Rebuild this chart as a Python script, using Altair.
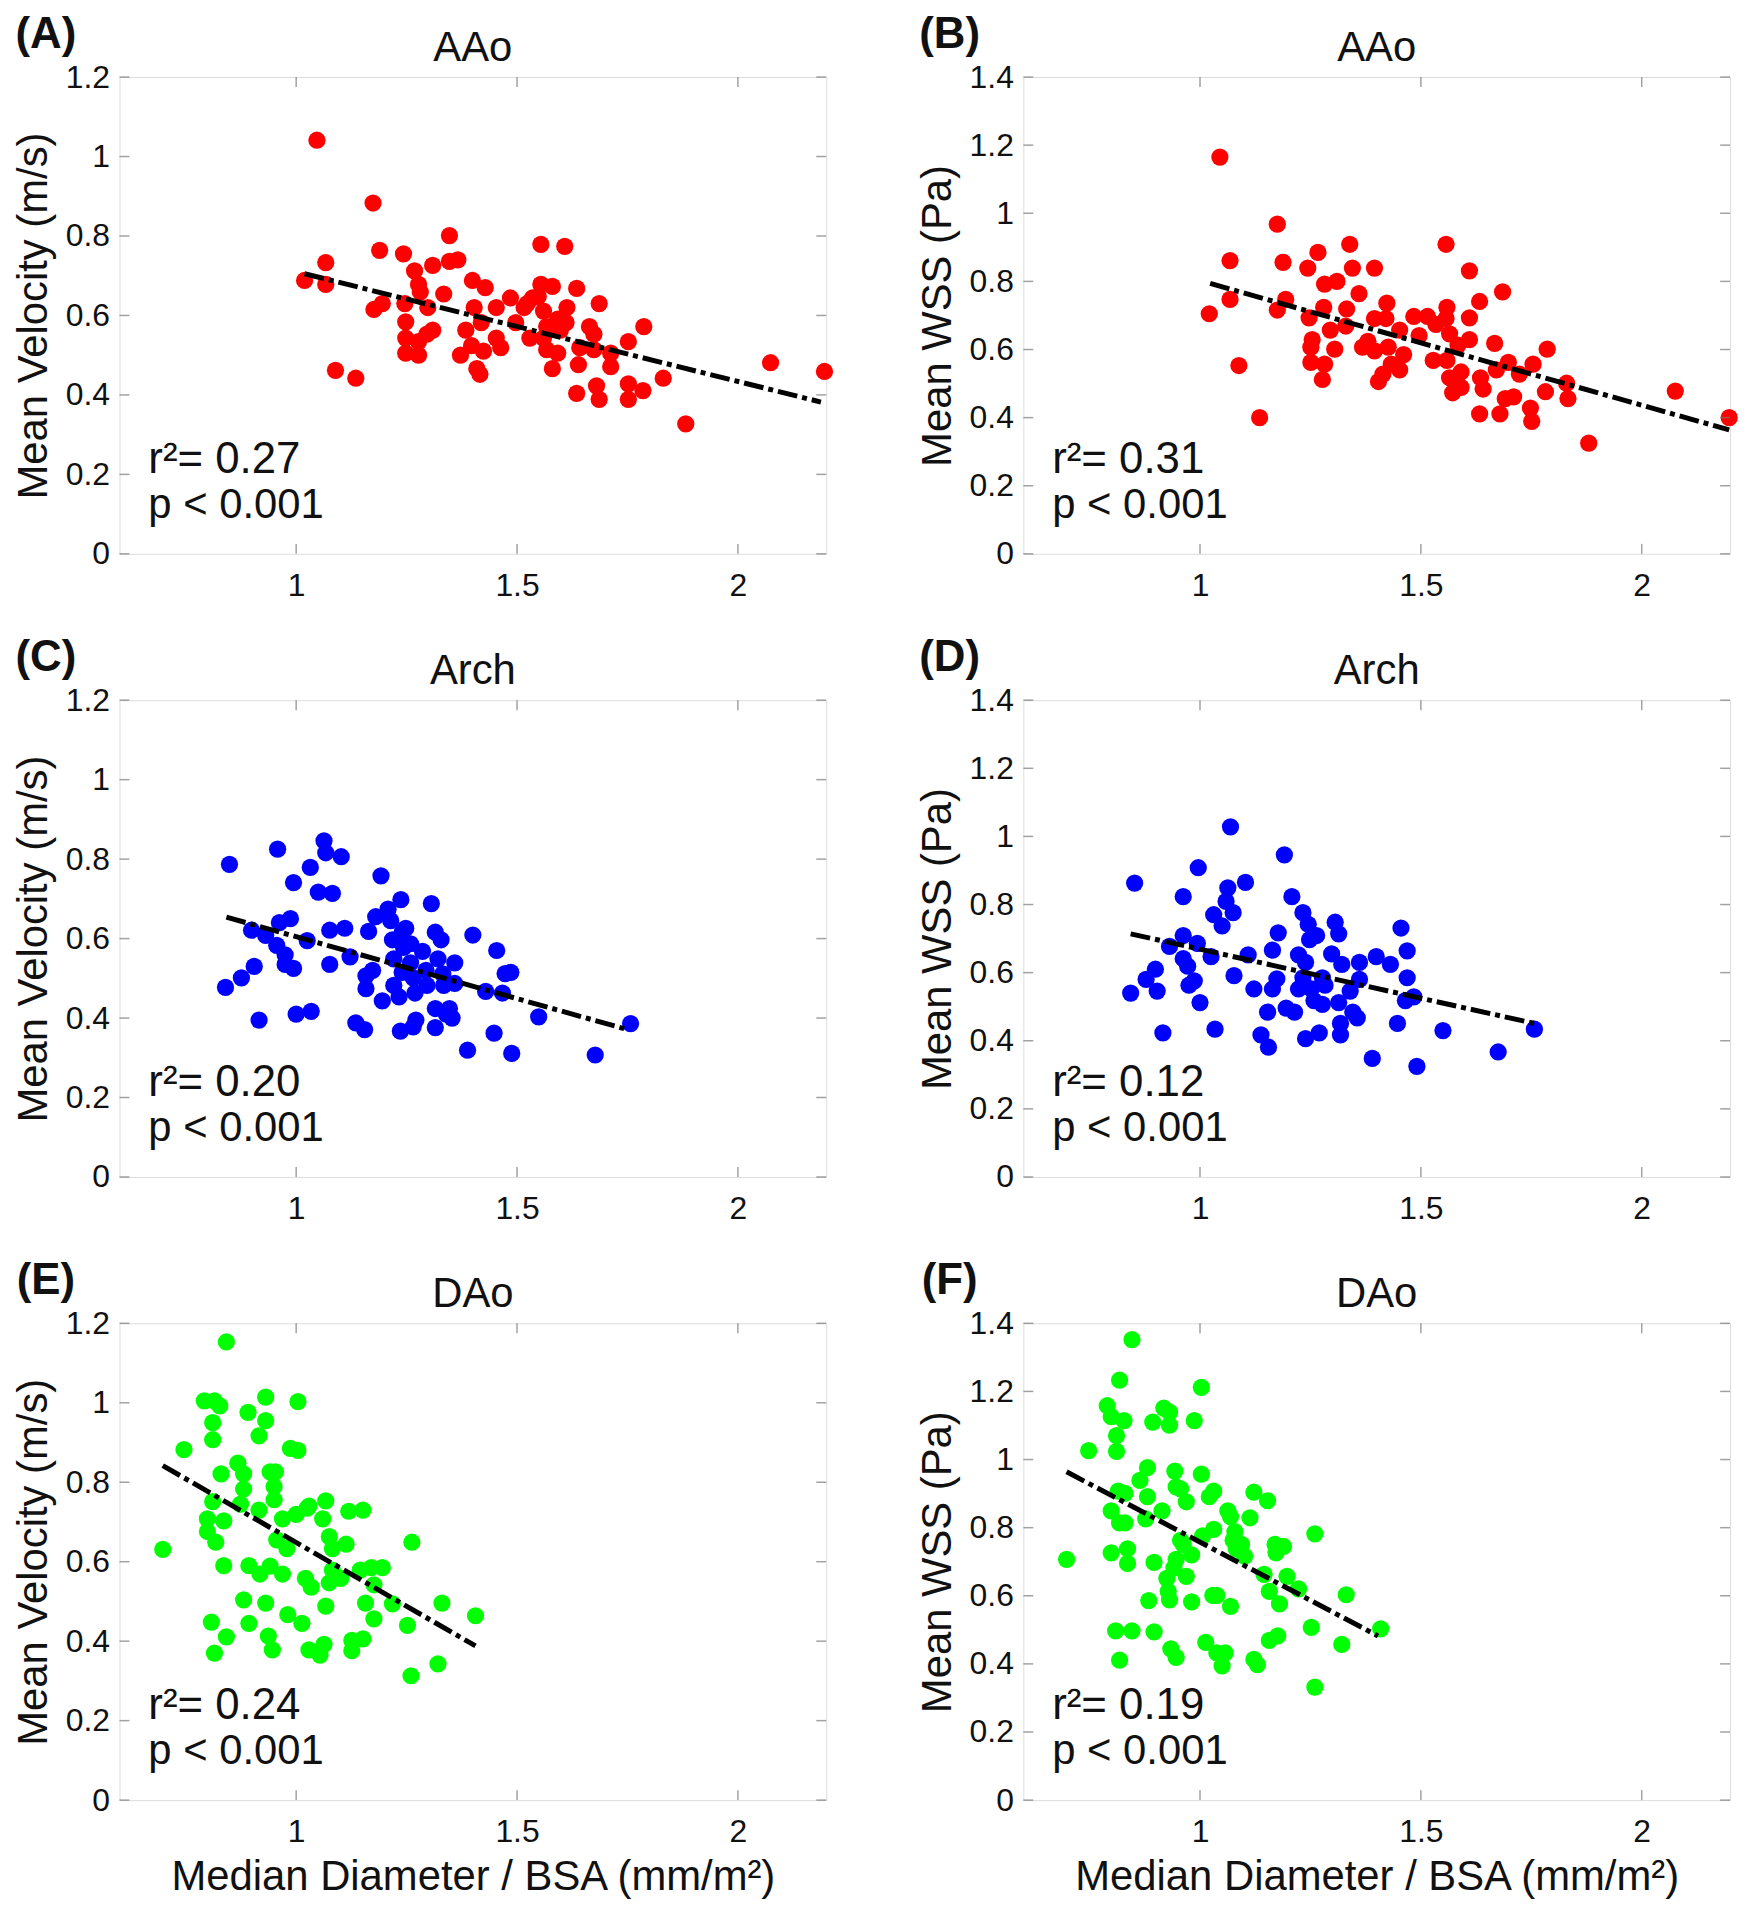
import altair as alt
import pandas as pd

FONT = "Liberation Sans, Arial, Helvetica, sans-serif"
BOX = "#7a7a7a"
INK = "#111111"

X_TICKS = [1, 1.5, 2]
VEL_TICKS = [0, 0.2, 0.4, 0.6, 0.8, 1, 1.2]
WSS_TICKS = [0, 0.2, 0.4, 0.6, 0.8, 1, 1.2, 1.4]
X_TITLE = "Median Diameter / BSA (mm/m\u00b2)"

# ---------------- Panel A: AAo, velocity ----------------
A_x = [1.047, 1.019, 1.067, 1.067, 1.089, 1.135, 1.174, 1.189, 1.176, 1.195,
       1.243, 1.268, 1.277, 1.281, 1.246, 1.248, 1.248, 1.248, 1.277, 1.277,
       1.296, 1.309, 1.309, 1.347, 1.347, 1.366, 1.334, 1.298, 1.399, 1.428,
       1.403, 1.384, 1.372, 1.397, 1.409, 1.416, 1.424, 1.419, 1.453, 1.453,
       1.463, 1.485, 1.497, 1.523, 1.529, 1.554, 1.554, 1.548, 1.580, 1.560,
       1.567, 1.560, 1.567, 1.580, 1.592, 1.592, 1.608, 1.613, 1.611, 1.635,
       1.635, 1.642, 1.639, 1.664, 1.674, 1.674, 1.686, 1.680, 1.686, 1.712,
       1.712, 1.752, 1.752, 1.752, 1.785, 1.787, 1.831, 1.882, 2.074, 2.196,
       1.535, 1.598, 1.516]
A_y = [1.041, 0.688, 0.733, 0.678, 0.462, 0.442, 0.883, 0.764, 0.615, 0.630,
       0.755, 0.712, 0.678, 0.659, 0.630, 0.584, 0.543, 0.505, 0.500, 0.534,
       0.553, 0.563, 0.726, 0.801, 0.736, 0.740, 0.654, 0.620, 0.688, 0.670,
       0.620, 0.563, 0.500, 0.524, 0.466, 0.452, 0.510, 0.582, 0.620, 0.543,
       0.519, 0.644, 0.582, 0.630, 0.543, 0.678, 0.779, 0.648, 0.673, 0.611,
       0.572, 0.543, 0.514, 0.466, 0.505, 0.591, 0.774, 0.620, 0.582, 0.668,
       0.404, 0.519, 0.476, 0.572, 0.553, 0.514, 0.630, 0.423, 0.389, 0.505,
       0.471, 0.534, 0.428, 0.389, 0.411, 0.572, 0.442, 0.327, 0.481, 0.459,
       0.644, 0.563, 0.620]
A_fit_x = [1.019, 2.188]
A_fit_y = [0.705, 0.382]

# ---------------- Panel B: AAo, WSS ----------------
B_x = [1.045, 1.021, 1.068, 1.068, 1.088, 1.135, 1.175, 1.188, 1.194, 1.175,
       1.244, 1.267, 1.247, 1.254, 1.251, 1.251, 1.282, 1.277, 1.282, 1.310,
       1.280, 1.295, 1.305, 1.339, 1.345, 1.332, 1.330, 1.360, 1.395, 1.423,
       1.380, 1.368, 1.395, 1.395, 1.421, 1.404, 1.414, 1.426, 1.433, 1.452,
       1.452, 1.461, 1.484, 1.496, 1.515, 1.528, 1.534, 1.557, 1.559, 1.557,
       1.565, 1.559, 1.565, 1.572, 1.584, 1.591, 1.591, 1.610, 1.610, 1.610,
       1.633, 1.635, 1.641, 1.633, 1.667, 1.671, 1.685, 1.679, 1.698, 1.691,
       1.710, 1.723, 1.754, 1.748, 1.751, 1.782, 1.786, 1.830, 1.833, 1.880,
       2.076, 2.198]
B_y = [1.165, 0.705, 0.861, 0.747, 0.553, 0.400, 0.968, 0.856, 0.747, 0.716,
       0.839, 0.885, 0.693, 0.629, 0.607, 0.562, 0.557, 0.512, 0.792, 0.800,
       0.724, 0.657, 0.601, 0.909, 0.839, 0.719, 0.669, 0.764, 0.839, 0.736,
       0.624, 0.607, 0.596, 0.691, 0.691, 0.506, 0.528, 0.607, 0.557, 0.540,
       0.657, 0.585, 0.697, 0.641, 0.697, 0.568, 0.674, 0.909, 0.724, 0.691,
       0.646, 0.568, 0.517, 0.473, 0.613, 0.534, 0.489, 0.693, 0.629, 0.831,
       0.741, 0.517, 0.484, 0.411, 0.618, 0.540, 0.769, 0.411, 0.562, 0.456,
       0.461, 0.528, 0.557, 0.428, 0.389, 0.476, 0.601, 0.501, 0.456, 0.325,
       0.478, 0.400]
B_fit_x = [1.023, 2.198]
B_fit_y = [0.794, 0.364]

# ---------------- Panel C: Arch, velocity ----------------
C_x = [0.849, 0.840, 0.876, 0.905, 0.899, 0.916, 0.931, 0.958, 0.962, 0.956,
       0.975, 0.975, 0.987, 0.994, 0.994, 1.000, 1.025, 1.032, 1.034, 1.050,
       1.063, 1.067, 1.082, 1.076, 1.076, 1.102, 1.110, 1.122, 1.135, 1.155,
       1.164, 1.158, 1.158, 1.173, 1.180, 1.192, 1.195, 1.208, 1.214, 1.218,
       1.221, 1.221, 1.237, 1.236, 1.240, 1.248, 1.243, 1.240, 1.233, 1.259,
       1.259, 1.265, 1.269, 1.271, 1.265, 1.286, 1.294, 1.296, 1.306, 1.315,
       1.315, 1.315, 1.328, 1.321, 1.332, 1.334, 1.340, 1.347, 1.353, 1.359,
       1.359, 1.388, 1.400, 1.429, 1.448, 1.454, 1.467, 1.473, 1.486, 1.488,
       1.549, 1.677, 1.757]
C_y = [0.787, 0.477, 0.501, 0.530, 0.621, 0.395, 0.608, 0.825, 0.640, 0.583,
       0.559, 0.535, 0.650, 0.741, 0.525, 0.410, 0.595, 0.779, 0.417, 0.717,
       0.846, 0.816, 0.714, 0.621, 0.535, 0.806, 0.626, 0.554, 0.388, 0.371,
       0.618, 0.506, 0.474, 0.520, 0.655, 0.758, 0.443, 0.674, 0.645, 0.597,
       0.549, 0.482, 0.698, 0.367, 0.616, 0.626, 0.578, 0.515, 0.453, 0.587,
       0.539, 0.501, 0.463, 0.395, 0.378, 0.568, 0.520, 0.482, 0.688, 0.616,
       0.424, 0.376, 0.597, 0.549, 0.511, 0.482, 0.410, 0.424, 0.400, 0.539,
       0.487, 0.319, 0.609, 0.467, 0.362, 0.570, 0.463, 0.512, 0.515, 0.311,
       0.403, 0.307, 0.386]
C_fit_x = [0.842, 1.750]
C_fit_y = [0.654, 0.371]

# ---------------- Panel D: Arch, WSS ----------------
D_x = [0.852, 0.843, 0.878, 0.899, 0.903, 0.916, 0.931, 0.962, 0.962, 0.962,
       0.972, 0.975, 0.987, 0.996, 0.994, 1.000, 1.025, 1.031, 1.034, 1.050,
       1.059, 1.063, 1.069, 1.075, 1.077, 1.103, 1.109, 1.122, 1.138, 1.155,
       1.153, 1.164, 1.164, 1.174, 1.177, 1.191, 1.195, 1.208, 1.214, 1.223,
       1.223, 1.233, 1.239, 1.245, 1.248, 1.239, 1.233, 1.252, 1.258, 1.264,
       1.270, 1.277, 1.283, 1.277, 1.298, 1.306, 1.314, 1.321, 1.314, 1.318,
       1.318, 1.340, 1.346, 1.356, 1.361, 1.361, 1.390, 1.399, 1.431, 1.447,
       1.455, 1.469, 1.469, 1.465, 1.484, 1.491, 1.550, 1.675, 1.757]
D_y = [0.863, 0.540, 0.580, 0.610, 0.546, 0.423, 0.677, 0.823, 0.709, 0.641,
       0.619, 0.563, 0.576, 0.908, 0.686, 0.512, 0.647, 0.770, 0.434, 0.737,
       0.809, 0.849, 1.028, 0.776, 0.591, 0.865, 0.652, 0.552, 0.417, 0.381,
       0.484, 0.666, 0.552, 0.582, 0.717, 0.946, 0.496, 0.823, 0.484, 0.652,
       0.552, 0.776, 0.406, 0.742, 0.697, 0.630, 0.585, 0.552, 0.518, 0.709,
       0.423, 0.585, 0.563, 0.507, 0.655, 0.748, 0.714, 0.624, 0.512, 0.451,
       0.417, 0.546, 0.484, 0.467, 0.630, 0.580, 0.348, 0.647, 0.624, 0.451,
       0.731, 0.664, 0.585, 0.518, 0.529, 0.325, 0.430, 0.367, 0.434]
D_fit_x = [0.843, 1.757]
D_fit_y = [0.714, 0.451]

# ---------------- Panel E: DAo, velocity ----------------
E_x = [0.698, 0.746, 0.792, 0.815, 0.827, 0.811, 0.811, 0.842, 0.830, 0.811,
       0.799, 0.799, 0.818, 0.836, 0.836, 0.808, 0.815, 0.842, 0.868, 0.881,
       0.881, 0.874, 0.891, 0.881, 0.893, 0.893, 0.916, 0.918, 0.916, 0.931,
       0.931, 0.941, 0.953, 0.950, 0.950, 0.941, 0.931, 0.937, 0.946, 0.956,
       0.969, 0.969, 0.979, 0.981, 0.987, 1.004, 1.004, 1.000, 1.013, 1.025,
       1.029, 1.021, 1.034, 1.029, 1.054, 1.063, 1.067, 1.060, 1.067, 1.075,
       1.082, 1.075, 1.082, 1.101, 1.113, 1.119, 1.126, 1.126, 1.151, 1.151,
       1.157, 1.145, 1.170, 1.176, 1.176, 1.195, 1.218, 1.252, 1.262, 1.260,
       1.321, 1.330, 1.406]
E_y = [0.631, 0.882, 1.005, 1.005, 0.992, 0.950, 0.907, 1.153, 0.821, 0.751,
       0.708, 0.676, 0.649, 0.703, 0.590, 0.448, 0.370, 0.411, 0.848, 0.821,
       0.783, 0.745, 0.976, 0.504, 0.445, 0.590, 0.730, 0.569, 0.917, 1.014,
       0.955, 0.826, 0.826, 0.789, 0.756, 0.589, 0.496, 0.413, 0.378, 0.655,
       0.569, 0.708, 0.633, 0.467, 0.885, 1.003, 0.880, 0.719, 0.445, 0.735,
       0.740, 0.558, 0.536, 0.378, 0.365, 0.392, 0.753, 0.708, 0.488, 0.663,
       0.633, 0.547, 0.579, 0.558, 0.644, 0.727, 0.402, 0.376, 0.730, 0.406,
       0.496, 0.579, 0.585, 0.542, 0.456, 0.585, 0.494, 0.440, 0.649, 0.313,
       0.343, 0.496, 0.464]
E_fit_x = [0.698, 1.406]
E_fit_y = [0.842, 0.388]

# ---------------- Panel F: DAo, WSS ----------------
F_x = [0.698, 0.748, 0.790, 0.799, 0.818, 0.846, 0.828, 0.811, 0.811, 0.815,
       0.830, 0.799, 0.818, 0.830, 0.799, 0.836, 0.836, 0.809, 0.846, 0.818,
       0.864, 0.881, 0.881, 0.877, 0.893, 0.896, 0.884, 0.896, 0.918, 0.931,
       0.931, 0.914, 0.925, 0.928, 0.931, 0.943, 0.946, 0.956, 0.969, 0.956,
       0.962, 0.946, 0.941, 0.969, 0.934, 0.946, 0.981, 0.981, 0.987, 1.003,
       1.003, 1.006, 1.013, 1.021, 1.031, 1.031, 1.029, 1.038, 1.038, 1.050,
       1.057, 1.063, 1.069, 1.069, 1.079, 1.075, 1.082, 1.094, 1.101, 1.113,
       1.122, 1.122, 1.130, 1.145, 1.153, 1.157, 1.157, 1.170, 1.172, 1.176,
       1.180, 1.189, 1.197, 1.223, 1.252, 1.260, 1.260, 1.321, 1.331, 1.409]
F_y = [0.707, 1.026, 1.158, 1.126, 1.233, 1.352, 1.114, 1.070, 1.024, 0.907,
       0.901, 0.849, 0.814, 0.814, 0.726, 0.738, 0.695, 0.497, 0.497, 0.411,
       0.939, 0.976, 0.891, 0.826, 1.110, 0.698, 0.586, 0.494, 1.151, 1.139,
       1.101, 0.849, 0.651, 0.613, 0.588, 0.966, 0.920, 0.914, 0.876, 0.763,
       0.751, 0.707, 0.682, 0.657, 0.444, 0.419, 0.720, 0.582, 1.114, 1.212,
       0.957, 0.776, 0.463, 0.891, 0.907, 0.795, 0.601, 0.601, 0.432, 0.394,
       0.432, 0.849, 0.832, 0.569, 0.788, 0.763, 0.738, 0.751, 0.716, 0.829,
       0.904, 0.413, 0.398, 0.663, 0.879, 0.613, 0.469, 0.751, 0.726, 0.482,
       0.576, 0.745, 0.657, 0.620, 0.507, 0.782, 0.332, 0.457, 0.603, 0.503]
F_fit_x = [0.698, 1.403]
F_fit_y = [0.964, 0.482]

W, H = 710, 479


def panel(px, py, fx, fy, color, ymax, yticks, ytitle, title, letter, r2, bottom):
    xscale = alt.Scale(domain=[0.6, 2.2], nice=False, zero=False)
    yscale = alt.Scale(domain=[0, ymax], nice=False, zero=False)
    xaxis = alt.Axis(values=X_TICKS, format="~g", ticks=False, domain=False, grid=False,
                     labelFontSize=32, labelPadding=17, labelColor=INK, labelFont=FONT,
                     titleFontSize=42, titleFontWeight="normal", titlePadding=9,
                     titleColor=INK, titleFont=FONT)
    yaxis = alt.Axis(values=yticks, format="~g", ticks=False, domain=False, grid=False,
                     labelFontSize=32, labelPadding=10, labelColor=INK, labelFont=FONT,
                     titleFontSize=42, titleFontWeight="normal", titlePadding=10,
                     titleColor=INK, titleFont=FONT)

    def xenc(field):
        if bottom:
            return alt.X(field, scale=xscale, axis=xaxis, title=X_TITLE)
        return alt.X(field, scale=xscale, axis=xaxis, title=None)

    def yenc(field):
        return alt.Y(field, scale=yscale, axis=yaxis, title=ytitle)

    pts = alt.Chart(pd.DataFrame({"x": px, "y": py})).mark_circle(
        size=300, opacity=1, color=color).encode(x=xenc("x:Q"), y=yenc("y:Q"))
    fit = alt.Chart(pd.DataFrame({"x": fx, "y": fy})).mark_line(
        color="black", strokeWidth=5, strokeDash=[20, 5, 5, 5]).encode(
        x=xenc("x:Q"), y=yenc("y:Q"))
    xt = pd.DataFrame({"x": X_TICKS})
    yt = pd.DataFrame({"y": yticks})
    tick_b = alt.Chart(xt).mark_tick(color=BOX, thickness=1.5, size=10, orient="vertical").encode(
        x=xenc("x:Q"), y=alt.value(H - 5))
    tick_t = alt.Chart(xt).mark_tick(color=BOX, thickness=1.5, size=10, orient="vertical").encode(
        x=xenc("x:Q"), y=alt.value(5))
    tick_l = alt.Chart(yt).mark_tick(color=BOX, thickness=1.5, size=10, orient="horizontal").encode(
        y=yenc("y:Q"), x=alt.value(5))
    tick_r = alt.Chart(yt).mark_tick(color=BOX, thickness=1.5, size=10, orient="horizontal").encode(
        y=yenc("y:Q"), x=alt.value(W - 5))
    one = pd.DataFrame({"a": [0]})
    head = alt.Chart(one).mark_text(text=title, font=FONT, fontSize=42, color=INK,
                                    align="center", baseline="middle").encode(
        x=alt.value(W / 2), y=alt.value(-29))
    lab = alt.Chart(one).mark_text(text=letter, font=FONT, fontSize=44, fontWeight="bold",
                                   color=INK, align="center", baseline="middle").encode(
        x=alt.value(-74), y=alt.value(-42))
    r2t = alt.Chart(one).mark_text(text="r\u00b2= " + r2, font=FONT, fontSize=44, color=INK,
                                   align="left", baseline="middle").encode(
        x=alt.value(29), y=alt.value(385))
    pt = alt.Chart(one).mark_text(text="p < 0.001", font=FONT, fontSize=42, color=INK,
                                  align="left", baseline="middle").encode(
        x=alt.value(29), y=alt.value(430))
    return alt.layer(pts, fit, tick_b, tick_t, tick_l, tick_r, head, lab, r2t, pt).properties(
        width=W, height=H)


RED, BLUE, GREEN = "#ff0000", "#0000ff", "#00ff00"
panels = [
    panel(A_x, A_y, A_fit_x, A_fit_y, RED, 1.2, VEL_TICKS, "Mean Velocity (m/s)", "AAo", "(A)", "0.27", False),
    panel(B_x, B_y, B_fit_x, B_fit_y, RED, 1.4, WSS_TICKS, "Mean WSS (Pa)", "AAo", "(B)", "0.31", False),
    panel(C_x, C_y, C_fit_x, C_fit_y, BLUE, 1.2, VEL_TICKS, "Mean Velocity (m/s)", "Arch", "(C)", "0.20", False),
    panel(D_x, D_y, D_fit_x, D_fit_y, BLUE, 1.4, WSS_TICKS, "Mean WSS (Pa)", "Arch", "(D)", "0.12", False),
    panel(E_x, E_y, E_fit_x, E_fit_y, GREEN, 1.2, VEL_TICKS, "Mean Velocity (m/s)", "DAo", "(E)", "0.24", True),
    panel(F_x, F_y, F_fit_x, F_fit_y, GREEN, 1.4, WSS_TICKS, "Mean WSS (Pa)", "DAo", "(F)", "0.19", True),
]

chart = alt.concat(*panels, columns=2, spacing={"row": 33, "column": 82}).properties(
    padding={"left": 4, "top": 0, "right": 4, "bottom": 2}
).configure_view(stroke=BOX, strokeWidth=1.5).configure(background="white")

chart.save("out.html", embed_options={"renderer": "svg", "actions": False})
